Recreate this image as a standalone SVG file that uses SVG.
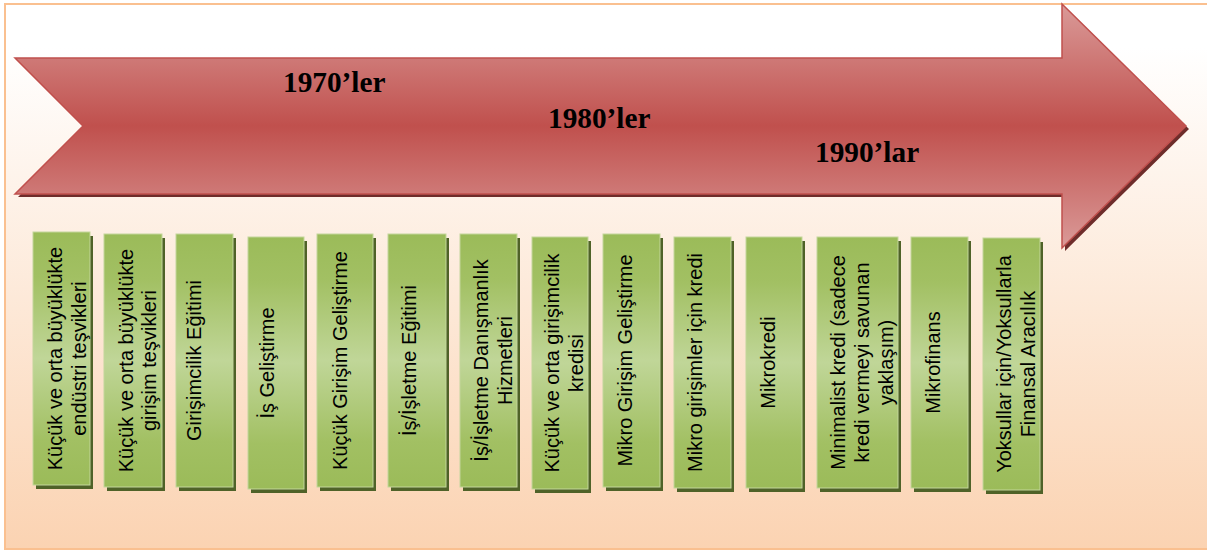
<svg xmlns="http://www.w3.org/2000/svg" width="1207" height="551" viewBox="0 0 1207 551">
<defs>
<linearGradient id="bg" x1="0" y1="0" x2="0" y2="1">
<stop offset="0" stop-color="#FFFFFF"/>
<stop offset="0.08" stop-color="#FFFFFF"/>
<stop offset="1" stop-color="#FBD3B2"/>
</linearGradient>
<linearGradient id="red" x1="0" y1="0" x2="0" y2="1">
<stop offset="0" stop-color="#DA9A98"/>
<stop offset="0.5" stop-color="#C0504D"/>
<stop offset="1" stop-color="#DA9A98"/>
</linearGradient>
<linearGradient id="green" x1="0" y1="0" x2="0" y2="1">
<stop offset="0" stop-color="#9BBB59"/>
<stop offset="0.18" stop-color="#A2C063"/>
<stop offset="0.5" stop-color="#C0D698"/>
<stop offset="0.82" stop-color="#A2C063"/>
<stop offset="1" stop-color="#9BBB59"/>
</linearGradient>
</defs>
<style>
.sh{fill:#4F6228}
.bx{fill:url(#green);stroke:#C3D69B;stroke-width:1}
.lb{font-family:"Liberation Sans",Arial,sans-serif;font-size:20px;fill:#000;text-anchor:middle}
.yr{font-family:"Liberation Serif","Times New Roman",serif;font-size:29.3px;font-weight:bold;fill:#000}
</style>
<rect x="5" y="4" width="1215" height="545" fill="url(#bg)" stroke="#FAC090" stroke-width="2"/>
<g id="arrow">
<path d="M18,61 L1065,61 L1065,7 L1189,129 L1065,251 L1065,197 L18,197 L86,129 Z" fill="#6E2D2B"/>
<path d="M15,58 L1062,58 L1062,4 L1186,126 L1062,248 L1062,194 L15,194 L83,126 Z" fill="url(#red)" stroke="#C0504D" stroke-width="1.5" stroke-linejoin="miter"/>
<text class="yr" x="283" y="91.5">1970’ler</text>
<text class="yr" x="548" y="127.5">1980’ler</text>
<text class="yr" x="815" y="161.5">1990’lar</text>
</g>
<g id="box1"><rect class="sh" x="36" y="236" width="57" height="253"/><rect class="bx" x="33" y="232" width="57" height="253"/>
<text class="lb" transform="translate(62,358.5) rotate(-90)"><tspan x="0" y="0">Küçük ve orta büyüklükte</tspan><tspan x="0" y="24">endüstri teşvikleri</tspan></text></g>
<g id="box2"><rect class="sh" x="107" y="238" width="58" height="253"/><rect class="bx" x="104" y="234" width="58" height="253"/>
<text class="lb" transform="translate(133,360.5) rotate(-90)"><tspan x="0" y="0">Küçük ve orta büyüklükte</tspan><tspan x="0" y="23">girişim teşvikleri</tspan></text></g>
<g id="box3"><rect class="sh" x="179" y="238" width="57" height="253"/><rect class="bx" x="176" y="234" width="57" height="253"/>
<text class="lb" transform="translate(201,360.5) rotate(-90)">Girişimcilik Eğitimi</text></g>
<g id="box4"><rect class="sh" x="251" y="241" width="56" height="252"/><rect class="bx" x="248" y="237" width="56" height="252"/>
<text class="lb" transform="translate(274,363) rotate(-90)">İş Geliştirme</text></g>
<g id="box5"><rect class="sh" x="320" y="238" width="56" height="253"/><rect class="bx" x="317" y="234" width="56" height="253"/>
<text class="lb" transform="translate(347,360.5) rotate(-90)">Küçük Girişim Geliştirme</text></g>
<g id="box6"><rect class="sh" x="391" y="238" width="58" height="253"/><rect class="bx" x="388" y="234" width="58" height="253"/>
<text class="lb" transform="translate(416,360.5) rotate(-90)">İş/İşletme Eğitimi</text></g>
<g id="box7"><rect class="sh" x="463" y="238" width="57" height="253"/><rect class="bx" x="460" y="234" width="57" height="253"/>
<text class="lb" transform="translate(488,360.5) rotate(-90)"><tspan x="0" y="0">İş/İşletme Danışmanlık</tspan><tspan x="0" y="24">Hizmetleri</tspan></text></g>
<g id="box8"><rect class="sh" x="535" y="241" width="56" height="252"/><rect class="bx" x="532" y="237" width="56" height="252"/>
<text class="lb" transform="translate(559,363) rotate(-90)"><tspan x="0" y="0">Küçük ve orta girişimcilik</tspan><tspan x="0" y="24">kredisi</tspan></text></g>
<g id="box9"><rect class="sh" x="606" y="238" width="57" height="253"/><rect class="bx" x="603" y="234" width="57" height="253"/>
<text class="lb" transform="translate(632,360.5) rotate(-90)">Mikro Girişim Geliştirme</text></g>
<g id="box10"><rect class="sh" x="677" y="241" width="57" height="251"/><rect class="bx" x="674" y="237" width="57" height="251"/>
<text class="lb" transform="translate(702,362.5) rotate(-90)">Mikro girişimler için kredi</text></g>
<g id="box11"><rect class="sh" x="749" y="241" width="56" height="251"/><rect class="bx" x="746" y="237" width="56" height="251"/>
<text class="lb" transform="translate(775,362.5) rotate(-90)">Mikrokredi</text></g>
<g id="box12"><rect class="sh" x="820" y="241" width="81" height="251"/><rect class="bx" x="817" y="237" width="81" height="251"/>
<text class="lb" transform="translate(845,362.5) rotate(-90)"><tspan x="0" y="0">Minimalist kredi (sadece</tspan><tspan x="0" y="24">kredi vermeyi savunan</tspan><tspan x="0" y="48">yaklaşım)</tspan></text></g>
<g id="box13"><rect class="sh" x="914" y="241" width="57" height="251"/><rect class="bx" x="911" y="237" width="57" height="251"/>
<text class="lb" transform="translate(940,362.5) rotate(-90)">Mikrofinans</text></g>
<g id="box14"><rect class="sh" x="986" y="242" width="57" height="252"/><rect class="bx" x="983" y="238" width="57" height="252"/>
<text class="lb" transform="translate(1011,364) rotate(-90)"><tspan x="0" y="0">Yoksullar için/Yoksullarla</tspan><tspan x="0" y="24">Finansal Aracılık</tspan></text></g>
</svg>
